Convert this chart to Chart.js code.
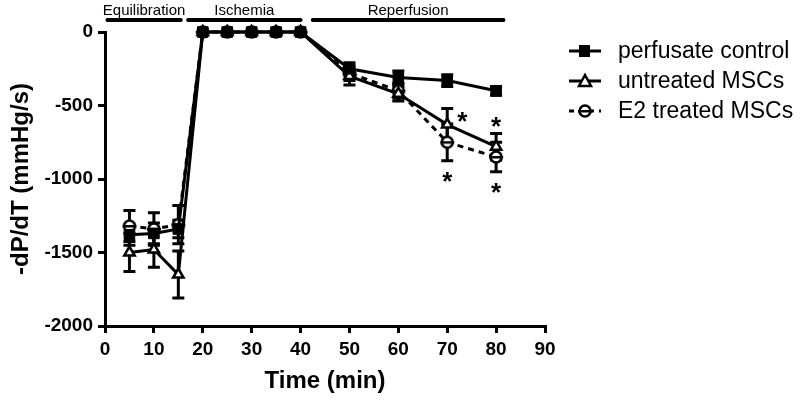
<!DOCTYPE html>
<html>
<head>
<meta charset="utf-8">
<script src="https://cdn.jsdelivr.net/npm/chart.js@4"></script>
<style>body{margin:0;background:#fff}</style>
</head>
<body>
<canvas id="myChart" width="800" height="402"></canvas>
<script>
// time points (min)
const times = [5, 10, 15, 20, 25, 30, 35, 40, 50, 60, 70, 80];

const perfusate    = [-1380, -1370, -1340, 0, 0, 0, 0, 0, -250, -310, -330, -400];
const perfusateErr = [70, 70, 60, 0, 0, 0, 0, 0, 40, 45, 40, 30];

const untreated    = [-1500, -1480, -1650, 0, 0, 0, 0, 0, -300, -420, -630, -780];
const untreatedErr = [130, 120, 160, 0, 0, 0, 0, 0, 60, 50, 110, 90];

const e2           = [-1320, -1340, -1310, 0, 0, 0, 0, 0, -280, -400, -750, -850];
const e2Err        = [105, 110, 130, 0, 0, 0, 0, 0, 50, 50, 125, 100];

// experiment phases (min)
const phaseNames = ["Equilibration", "Ischemia", "Reperfusion"];
const phaseFrom  = [0.5, 17, 42.5];
const phaseTo    = [15.5, 40, 81.5];

// significance marks: series index, point index, where
const sigSeries = [1, 2, 1, 2];
const sigPoint  = [10, 10, 11, 11];
const sigSide   = ["right", "below", "above", "below"];

const legendNames = ["perfusate control", "untreated MSCs", "E2 treated MSCs"];

const FONT = "'Liberation Sans', Arial, sans-serif";

function circleMinus() {
  const c = document.createElement("canvas");
  c.width = 16; c.height = 16;
  const g = c.getContext("2d");
  g.fillStyle = "#fff";
  g.strokeStyle = "#000";
  g.lineWidth = 2.5;
  g.beginPath();
  g.arc(8, 8, 5.5, 0, Math.PI * 2);
  g.fill();
  g.stroke();
  g.fillStyle = "#000";
  g.fillRect(1, 7, 14, 2.5);
  return c;
}
const circleImg = circleMinus();

function toPts(vals) {
  return vals.map((v, i) => ({ x: times[i], y: v }));
}

const errs = [perfusateErr, untreatedErr, e2Err];

const errorBars = {
  id: "errorBars",
  beforeDatasetsDraw(chart) {
    const ctx = chart.ctx;
    const xs = chart.scales.x, ys = chart.scales.y;
    ctx.save();
    ctx.strokeStyle = "#000";
    ctx.lineWidth = 3;
    chart.data.datasets.forEach((ds, d) => {
      ds.data.forEach((p, i) => {
        const e = errs[d][i];
        if (!e) return;
        const x = xs.getPixelForValue(p.x);
        const y1 = ys.getPixelForValue(p.y + e);
        const y2 = ys.getPixelForValue(p.y - e);
        ctx.beginPath();
        ctx.moveTo(x, y1); ctx.lineTo(x, y2);
        ctx.moveTo(x - 6, y1); ctx.lineTo(x + 6, y1);
        ctx.moveTo(x - 6, y2); ctx.lineTo(x + 6, y2);
        ctx.stroke();
      });
    });
    ctx.restore();
  }
};

const extras = {
  id: "extras",
  afterDraw(chart) {
    const ctx = chart.ctx;
    const xs = chart.scales.x, ys = chart.scales.y;
    ctx.save();
    // phase bars
    ctx.strokeStyle = "#000";
    ctx.lineWidth = 4;
    ctx.lineCap = "round";
    ctx.fillStyle = "#000";
    ctx.font = "15px " + FONT;
    ctx.textAlign = "center";
    ctx.textBaseline = "alphabetic";
    phaseNames.forEach((n, i) => {
      const a = xs.getPixelForValue(phaseFrom[i]);
      const b = xs.getPixelForValue(phaseTo[i]);
      ctx.beginPath();
      ctx.moveTo(a, 20); ctx.lineTo(b, 20);
      ctx.stroke();
      ctx.fillText(n, (a + b) / 2, 15);
    });

    // significance asterisks
    ctx.font = "bold 26px " + FONT;
    ctx.textBaseline = "middle";
    sigSeries.forEach((s, k) => {
      const i = sigPoint[k];
      const v = chart.data.datasets[s].data[i].y;
      const e = errs[s][i];
      const x = xs.getPixelForValue(times[i]);
      let px = x, py;
      if (sigSide[k] === "right") { px = x + 15; py = ys.getPixelForValue(v + e) + 14; }
      else if (sigSide[k] === "above") { py = ys.getPixelForValue(v + e) - 6; }
      else { py = ys.getPixelForValue(v - e) + 22; }
      ctx.fillText("*", px, py);
    });

    // legend
    const rows = [51, 81, 111];
    ctx.font = "23px " + FONT;
    ctx.textAlign = "left";
    ctx.textBaseline = "middle";
    rows.forEach((y, i) => {
      ctx.lineWidth = 3;
      ctx.lineCap = "butt";
      ctx.strokeStyle = "#000";
      ctx.setLineDash(i === 2 ? [5, 5] : []);
      ctx.beginPath();
      ctx.moveTo(569, y); ctx.lineTo(601, y);
      ctx.stroke();
      ctx.setLineDash([]);
      if (i === 0) {
        ctx.fillRect(579, y - 6, 11, 12);
      } else if (i === 1) {
        ctx.fillStyle = "#fff";
        ctx.lineWidth = 2.5;
        ctx.beginPath();
        ctx.moveTo(585, y - 6); ctx.lineTo(591, y + 5); ctx.lineTo(579, y + 5); ctx.closePath();
        ctx.fill(); ctx.stroke();
      } else {
        ctx.drawImage(circleImg, 577, y - 8);
      }
      ctx.fillStyle = "#000";
      ctx.fillText(legendNames[i], 618, y + 1);
    });
    ctx.restore();
  }
};

const data = {
  datasets: [
    {
      label: legendNames[0],
      data: toPts(perfusate),
      borderColor: "#000",
      backgroundColor: "#000",
      borderWidth: 3,
      pointStyle: "rect",
      pointRadius: 7.5,
      pointBorderWidth: 1,
      pointBackgroundColor: "#000",
      pointBorderColor: "#000",
      clip: false
    },
    {
      label: legendNames[1],
      data: toPts(untreated),
      borderColor: "#000",
      borderWidth: 3,
      pointStyle: "triangle",
      pointRadius: 6,
      pointBorderWidth: 2.5,
      pointBackgroundColor: "#fff",
      pointBorderColor: "#000",
      clip: false
    },
    {
      label: legendNames[2],
      data: toPts(e2),
      borderColor: "#000",
      borderWidth: 3,
      borderDash: [6, 5],
      pointStyle: circleImg,
      clip: false
    }
  ]
};

const tickFont = { family: FONT, size: 19, weight: "bold" };
const titleFont = { family: FONT, size: 24, weight: "bold" };

const config = {
  type: "line",
  data,
  options: {
    responsive: false,
    animation: false,
    layout: { padding: { top: 32, right: 255, left: 0, bottom: 0 } },
    plugins: { legend: { display: false }, tooltip: { enabled: false } },
    scales: {
      x: {
        type: "linear",
        min: 0, max: 90,
        ticks: { stepSize: 10, color: "#000", font: tickFont, padding: 5 },
        grid: { drawOnChartArea: false, color: "#000", lineWidth: 3, tickLength: 7 },
        border: { color: "#000", width: 3 },
        title: { display: true, text: "Time (min)", color: "#000", font: titleFont, padding: { top: 0, bottom: 6 } },
        afterFit(s) { s.height = 76; }
      },
      y: {
        min: -2000, max: 0,
        ticks: { stepSize: 500, color: "#000", font: tickFont, padding: 5, callback: (v) => String(v) },
        grid: { drawOnChartArea: false, color: "#000", lineWidth: 3, tickLength: 7 },
        border: { color: "#000", width: 3 },
        title: { display: true, text: "-dP/dT (mmHg/s)", color: "#000", font: titleFont, padding: { top: 7, bottom: 0 } },
        afterFit(s) { s.width = 105; }
      }
    }
  },
  plugins: [errorBars, extras]
};

const myChart = new Chart(document.getElementById("myChart"), config);
</script>
</body>
</html>
